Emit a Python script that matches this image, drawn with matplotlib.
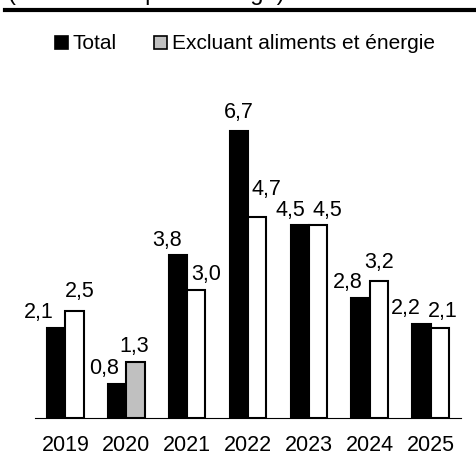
import matplotlib.pyplot as plt
from matplotlib.lines import Line2D
from matplotlib.patches import Patch
import numpy as np

plt.rcParams['font.family'] = ['Liberation Sans', 'DejaVu Sans']
plt.rc('font', size=15)

years = ['2019', '2020', '2021', '2022', '2023', '2024', '2025']
total = [2.1, 0.8, 3.8, 6.7, 4.5, 2.8, 2.2]
excl = [2.5, 1.3, 3.0, 4.7, 4.5, 3.2, 2.1]
labels_total = ['2,1', '0,8', '3,8', '6,7', '4,5', '2,8', '2,2']
labels_excl = ['2,5', '1,3', '3,0', '4,7', '4,5', '3,2', '2,1']

# label offsets (pixels) as placed in the source chart
dx_total = [-18, -13, -11, 0, -9, -13, -16]
dy_total = [16, 15, 15, 19, 15, 16, 15]
dx_excl = [5, -1, 10, 9, 9, 0, 3]
dy_excl = [19, 16, 15, 27, 15, 19, 17]

fig = plt.figure(figsize=(4.77, 4.63), dpi=100)
ax = fig.add_axes([35 / 477, 45 / 463, 426 / 477, 342.4 / 463])

x = np.arange(len(years))
w = 0.3
excl_colors = ['#c0c0c0' if y == '2020' else 'white' for y in years]

ax.bar(x - w / 2, total, w, color='black', edgecolor='black', linewidth=1.5)
ax.bar(x + w / 2, excl, w, color=excl_colors, edgecolor='black', linewidth=1.5)

px = 72 / 100  # pixels -> points
for i in range(len(years)):
    ax.annotate(labels_total[i], (x[i] - w / 2, total[i]),
                xytext=(dx_total[i] * px, dy_total[i] * px), textcoords='offset points',
                ha='center', va='center', fontsize=15.5)
    ax.annotate(labels_excl[i], (x[i] + w / 2, excl[i]),
                xytext=(dx_excl[i] * px, dy_excl[i] * px), textcoords='offset points',
                ha='center', va='center', fontsize=15.5)

ax.set_xlim(-0.5, 6.5)
ax.set_ylim(0, 8)
ax.set_xticks(x)
ax.set_xticklabels(years)
ax.set_yticks([])
ax.tick_params(axis='x', length=0, pad=12.5, labelsize=15.5)
for s in ['top', 'left', 'right']:
    ax.spines[s].set_visible(False)
ax.spines['bottom'].set_linewidth(0.8)

handles = [Patch(facecolor='black', edgecolor='black', linewidth=1.2),
           Patch(facecolor='#c0c0c0', edgecolor='black', linewidth=1.2)]
fig.legend(handles, ['Total', 'Excluant aliments et énergie'], loc='center',
           bbox_to_anchor=(0.514, 0.905), ncol=2, frameon=False, fontsize=15,
           handlelength=0.6, handleheight=0.6, handletextpad=0.25,
           columnspacing=1.8, borderpad=0)

# header: cut-off subtitle and thick rule
fig.text(8 / 477, 1.0, '(variation en pourcentage)', fontsize=17,
         ha='left', va='baseline')
fig.add_artist(Line2D([5 / 477, 1.0], [1 - 10 / 463, 1 - 10 / 463],
                      color='black', linewidth=3, transform=fig.transFigure))

plt.savefig('out.png', dpi=100)
